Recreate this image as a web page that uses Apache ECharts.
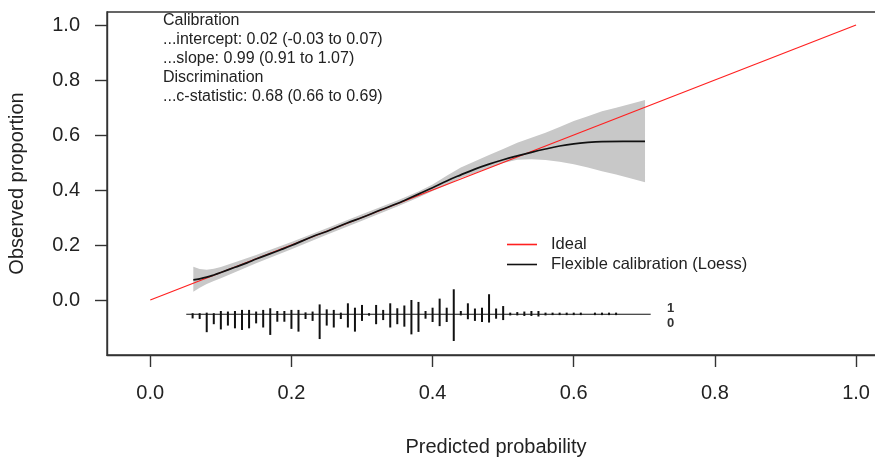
<!DOCTYPE html>
<html>
<head>
<meta charset="utf-8">
<script src="https://cdn.jsdelivr.net/npm/echarts@6/dist/echarts.min.js"></script>
<style>html,body{margin:0;padding:0;background:#fff}#c{width:875px;height:457px}</style>
</head>
<body>
<div id="c"></div>
<script>
// ---- data ----
var xTicks = [0, 0.2, 0.4, 0.6, 0.8, 1.0];
var yTicks = [0, 0.2, 0.4, 0.6, 0.8, 1.0];
var idealX = [0, 1];
var idealY = [0, 1];
var curveX = [0.061, 0.07, 0.08, 0.09, 0.10, 0.12, 0.137, 0.15, 0.184, 0.20, 0.231, 0.25, 0.279, 0.30, 0.326, 0.35, 0.36, 0.38, 0.40, 0.42, 0.44, 0.46, 0.48, 0.50, 0.52, 0.54, 0.56, 0.58, 0.60, 0.62, 0.64, 0.67, 0.701];
var curveY = [0.073, 0.077, 0.083, 0.091, 0.100, 0.119, 0.135, 0.149, 0.182, 0.198, 0.232, 0.249, 0.280, 0.300, 0.327, 0.351, 0.362, 0.385, 0.408, 0.433, 0.455, 0.476, 0.494, 0.510, 0.524, 0.537, 0.549, 0.560, 0.568, 0.573, 0.576, 0.577, 0.577];
var bandX     = [0.061, 0.07, 0.08, 0.09, 0.10, 0.12, 0.15, 0.20, 0.25, 0.30, 0.35, 0.38, 0.40, 0.42, 0.44, 0.46, 0.48, 0.50, 0.52, 0.54, 0.56, 0.58, 0.60, 0.62, 0.64, 0.66, 0.68, 0.701];
var bandUpper = [0.121, 0.113, 0.110, 0.114, 0.120, 0.137, 0.164, 0.211, 0.261, 0.312, 0.362, 0.395, 0.420, 0.452, 0.482, 0.505, 0.527, 0.549, 0.572, 0.590, 0.608, 0.629, 0.651, 0.668, 0.686, 0.699, 0.713, 0.727];
var bandLower = [0.030, 0.045, 0.058, 0.069, 0.079, 0.101, 0.134, 0.185, 0.237, 0.288, 0.340, 0.373, 0.396, 0.418, 0.444, 0.462, 0.480, 0.498, 0.510, 0.512, 0.509, 0.503, 0.494, 0.482, 0.468, 0.456, 0.443, 0.428];
var spikeBase = -0.052;
var spikeLineX = [0.051, 0.709];
var spikeX = [0.06,0.07,0.08,0.09,0.10,0.11,0.12,0.13,0.14,0.15,0.16,0.17,0.18,0.19,0.20,0.21,0.22,0.23,0.24,0.25,0.26,0.27,0.28,0.29,0.30,0.31,0.32,0.33,0.34,0.35,0.36,0.37,0.38,0.39,0.40,0.41,0.42,0.43,0.44,0.45,0.46,0.47,0.48,0.49,0.50,0.51,0.52,0.53,0.54,0.55,0.56,0.57,0.58,0.59,0.60,0.61,0.63,0.64,0.65,0.66];
var spikeUp   = [0.004,0.004,0.006,0.004,0.012,0.010,0.012,0.016,0.016,0.010,0.016,0.022,0.012,0.012,0.016,0.016,0.007,0.010,0.036,0.018,0.016,0.006,0.040,0.024,0.034,0.004,0.034,0.016,0.040,0.022,0.032,0.052,0.045,0.012,0.024,0.057,0.024,0.091,0.012,0.040,0.021,0.024,0.073,0.021,0.030,0.006,0.008,0.010,0.012,0.012,0.006,0.006,0.006,0.006,0.006,0.006,0.006,0.006,0.006,0.006];
var spikeDown = [0.015,0.017,0.065,0.036,0.055,0.041,0.051,0.057,0.051,0.033,0.048,0.075,0.027,0.027,0.053,0.063,0.017,0.024,0.090,0.041,0.048,0.017,0.048,0.063,0.024,0.005,0.036,0.021,0.048,0.036,0.045,0.073,0.064,0.016,0.028,0.043,0.028,0.097,0.004,0.018,0.024,0.028,0.030,0.016,0.021,0.004,0.004,0.006,0.006,0.008,0.004,0.003,0.003,0.003,0.003,0.003,0.003,0.003,0.003,0.003];
var outcomeLabels = ['1', '0'];
var annotationLines = ['Calibration', '...intercept: 0.02 (-0.03 to 0.07)', '...slope: 0.99 (0.91 to 1.07)', 'Discrimination', '...c-statistic: 0.68 (0.66 to 0.69)'];
var legendNames = ['Ideal', 'Flexible calibration (Loess)'];

// ---- chart ----
var FONT = '"Liberation Sans", Arial, sans-serif';
var TXT = '#222';
var chart = echarts.init(document.getElementById('c'), null, {renderer: 'canvas'});

function zip(a, b) { return a.map(function (v, i) { return [v, b[i]]; }); }

var option = {
  animation: false,
  backgroundColor: '#fff',
  textStyle: {fontFamily: FONT},
  grid: {left: 107, top: 12, width: 778, height: 343, outerBoundsMode: 'none', containLabel: false,
         show: true, borderColor: '#333', borderWidth: 1.4, backgroundColor: 'transparent'},
  legend: {
    data: legendNames,
    orient: 'vertical',
    left: 507, top: 236, padding: 0,
    icon: 'rect',
    itemWidth: 30, itemHeight: 1.6, itemGap: 3,
    textStyle: {fontFamily: FONT, fontSize: 16.5, color: TXT, padding: [0, 0, 0, 9], lineHeight: 17},
    selectedMode: false
  },
  xAxis: {
    type: 'value', min: -0.0613, max: 1.041,
    axisLine: {show: true, onZero: false, lineStyle: {color: '#333', width: 1.4}},
    axisTick: {show: true, customValues: xTicks, length: 12, lineStyle: {color: '#333', width: 1.4}},
    axisLabel: {customValues: xTicks, formatter: function (v) { return v.toFixed(1); }, fontSize: 20, color: TXT, fontFamily: FONT, margin: 28},
    splitLine: {show: false},
    name: 'Predicted probability', nameLocation: 'middle', nameGap: 82,
    nameTextStyle: {fontSize: 20, color: TXT, fontFamily: FONT}
  },
  yAxis: {
    type: 'value', min: -0.2, max: 1.0473,
    axisLine: {show: true, onZero: false, lineStyle: {color: '#333', width: 1.4}},
    axisTick: {show: true, customValues: yTicks, length: 12, lineStyle: {color: '#333', width: 1.4}},
    axisLabel: {customValues: yTicks, formatter: function (v) { return v.toFixed(1); }, fontSize: 20, color: TXT, fontFamily: FONT, margin: 27},
    splitLine: {show: false},
    name: 'Observed proportion', nameLocation: 'middle', nameGap: 80,
    nameTextStyle: {fontSize: 20, color: TXT, fontFamily: FONT}
  },
  graphic: [{
    type: 'text', left: 163, top: 11,
    style: {text: annotationLines.join('\n'), font: '16px ' + FONT, fill: TXT, lineHeight: 19}
  }],
  series: [
    {
      name: 'band', type: 'custom', silent: true, z: 1,
      data: [[bandX[0], bandUpper[0]]],
      renderItem: function (params, api) {
        var pts = [];
        for (var i = 0; i < bandX.length; i++) pts.push(api.coord([bandX[i], bandUpper[i]]));
        for (var j = bandX.length - 1; j >= 0; j--) pts.push(api.coord([bandX[j], bandLower[j]]));
        return {type: 'polygon', shape: {points: pts}, style: {fill: '#c8c8c8', stroke: null}};
      }
    },
    {
      name: 'Ideal', type: 'line', data: zip(idealX, idealY), symbol: 'none', z: 2,
      lineStyle: {color: '#ff2020', width: 1.2}, itemStyle: {color: '#ff2020'}
    },
    {
      name: 'Flexible calibration (Loess)', type: 'line', data: zip(curveX, curveY), symbol: 'none', smooth: 0.4, z: 3,
      lineStyle: {color: '#111', width: 1.7}, itemStyle: {color: '#111'}
    },
    {
      name: 'baseline', type: 'line', data: zip(spikeLineX, [spikeBase, spikeBase]), symbol: 'none', z: 4,
      lineStyle: {color: '#111', width: 1.1}, silent: true
    },
    {
      name: 'spikes', type: 'custom', silent: true, z: 5,
      data: spikeX.map(function (x, i) { return [x, spikeUp[i], spikeDown[i]]; }),
      encode: {x: 0, y: 1},
      renderItem: function (params, api) {
        var x = api.value(0), up = api.value(1), dn = api.value(2);
        var p1 = api.coord([x, spikeBase + up]);
        var p2 = api.coord([x, spikeBase - dn]);
        return {type: 'line', shape: {x1: p1[0], y1: p1[1], x2: p2[0], y2: p2[1]}, style: {stroke: '#111', lineWidth: 2}};
      }
    },
    {
      name: 'outcomes', type: 'custom', silent: true, z: 5,
      data: [[spikeLineX[1], spikeBase]],
      renderItem: function (params, api) {
        var p = api.coord([api.value(0), api.value(1)]);
        return {type: 'group', children: [
          {type: 'text', x: p[0] + 20, y: p[1] - 6, style: {text: outcomeLabels[0], font: 'bold 13px ' + FONT, fill: '#333', align: 'center', verticalAlign: 'middle'}},
          {type: 'text', x: p[0] + 20, y: p[1] + 9, style: {text: outcomeLabels[1], font: 'bold 13px ' + FONT, fill: '#333', align: 'center', verticalAlign: 'middle'}}
        ]};
      }
    }
  ]
};
chart.setOption(option);
</script>
</body>
</html>
